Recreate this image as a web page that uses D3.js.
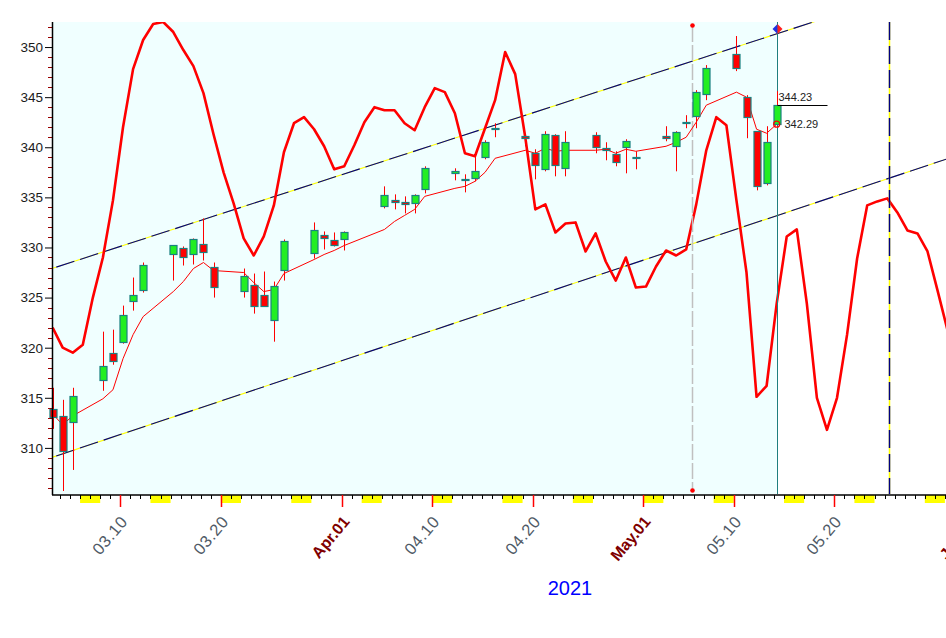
<!DOCTYPE html>
<html><head><meta charset="utf-8">
<script src="https://cdn.jsdelivr.net/npm/d3@7"></script>
<style>
body{margin:0;background:#fff;}
svg{display:block;font-family:Arial,"Liberation Sans",sans-serif;}
</style></head>
<body><svg id="chart" width="946" height="638"></svg>
<script>
// ---------------- DATA ----------------
const tradeDates = ["2021-03-03","2021-03-04","2021-03-05","2021-03-08","2021-03-09","2021-03-10","2021-03-11","2021-03-12","2021-03-15","2021-03-16","2021-03-17","2021-03-18","2021-03-19","2021-03-22","2021-03-23","2021-03-24","2021-03-25","2021-03-26","2021-03-29","2021-03-30","2021-03-31","2021-04-01","2021-04-05","2021-04-06","2021-04-07","2021-04-08","2021-04-09","2021-04-12","2021-04-13","2021-04-14","2021-04-15","2021-04-16","2021-04-19","2021-04-20","2021-04-21","2021-04-22","2021-04-23","2021-04-26","2021-04-27","2021-04-28","2021-04-29","2021-04-30","2021-05-03","2021-05-04","2021-05-05","2021-05-06","2021-05-07","2021-05-10","2021-05-11","2021-05-12","2021-05-13","2021-05-14"];
const opens  = [313.9,313.2,312.6,316.8,319.5,320.6,324.7,325.8,329.3,329.9,329.3,330.3,328.1,325.7,326.3,325.3,322.8,327.7,329.4,331.2,330.7,330.8,334.1,334.7,334.5,334.4,335.8,337.4,336.8,336.9,339.0,341.9,341.1,339.4,337.8,341.2,337.9,341.2,339.9,339.3,340.0,339.0,341.1,340.1,342.5,343.1,345.3,349.3,345.0,341.6,336.4,342.29];
const highs  = [316.0,314.8,316.0,321.6,321.8,324.2,327.0,328.5,330.2,330.1,330.9,332.9,328.5,327.9,327.4,327.6,326.6,330.8,332.5,331.6,331.5,331.6,336.1,335.3,335.1,335.3,338.1,337.9,337.3,339.1,340.7,342.4,341.2,339.8,341.6,341.3,341.6,341.5,340.5,339.6,340.8,339.6,342.1,341.6,343.2,345.7,348.2,351.1,345.2,341.6,342.1,345.6];
const lows   = [311.9,305.7,307.8,315.7,318.3,320.4,323.7,325.5,326.7,328.2,328.3,328.7,325.0,325.0,323.4,324.1,320.6,326.7,328.9,329.8,330.1,329.7,333.9,333.8,333.4,333.4,335.4,336.7,335.5,336.6,338.8,341.0,340.1,336.8,337.6,337.1,337.1,339.4,338.7,338.1,337.4,337.8,340.6,337.6,341.9,341.9,344.7,347.6,340.9,335.7,336.2,342.2];
const closes = [313.1,309.7,315.2,318.2,318.7,323.3,325.3,328.3,330.2,329.0,330.8,329.5,326.1,327.2,324.2,324.2,326.2,330.6,331.7,330.9,330.2,331.5,335.2,334.5,334.3,335.2,337.9,337.6,336.8,337.6,340.5,341.9,340.9,338.2,341.3,338.2,340.5,340.0,339.7,338.5,340.6,339.0,340.9,341.5,342.5,345.5,347.9,347.9,343.0,336.1,340.5,344.23];
const maValues = [313.4,312.3,313.2,314.9,315.8,318.9,321.3,323.1,325.6,326.6,327.9,328.5,327.7,327.5,326.5,325.6,325.8,327.4,328.8,329.3,329.7,330.2,331.8,332.6,333.2,333.8,335.1,335.9,336.1,336.6,337.5,338.9,339.7,339.4,339.9,339.6,339.7,339.7,339.8,339.4,339.8,339.6,340.1,340.5,341.0,342.5,344.2,345.5,345.0,341.8,341.4,342.3];

// cycle projection line, one value per calendar day starting 2021-03-03
const cycleStart = "2021-03-03";
const cycleValues = [322.0,320.0,319.5,320.3,325.0,329.0,334.7,342.0,347.8,350.7,352.3,352.5,351.5,349.7,348.1,345.4,341.3,337.5,334.4,330.9,329.2,331.1,334.2,339.5,342.4,343.0,341.8,340.1,337.8,338.1,340.2,342.5,344.0,343.7,343.7,342.4,341.7,344.0,345.9,345.5,343.4,339.4,339.1,341.9,344.7,349.5,347.3,341.0,333.8,334.3,331.5,332.4,332.5,329.6,331.4,328.6,326.7,329.0,326.0,326.1,328.1,329.7,329.2,329.8,334.3,339.7,343.0,342.2,334.7,327.5,315.1,316.2,324.4,331.1,331.8,324.4,315.0,311.8,315.0,321.3,328.9,334.2,334.6,334.9,333.5,331.7,331.4,329.6,325.7,321.7];

// channel lines: [date, value] end points
const channelUpper = [["2021-03-01", 327.27], ["2021-05-31", 356.84]];
const channelLower = [["2021-03-01", 308.41], ["2021-05-31", 338.86]];

const yTickValues = [310, 315, 320, 325, 330, 335, 340, 345, 350];
const xTickLabels = [
  ["2021-03-10","03.10",false],["2021-03-20","03.20",false],["2021-04-01","Apr.01",true],
  ["2021-04-10","04.10",false],["2021-04-20","04.20",false],["2021-05-01","May.01",true],
  ["2021-05-10","05.10",false],["2021-05-20","05.20",false],["2021-06-01","Jun.01",true]
];
const yearLabel = "2021";
const markerDate = "2021-05-05T20:40:00Z";   // gray dashed divider
const cycleDate  = "2021-05-25T11:15:00Z";   // navy dashed cycle line
const targetValue = 351.8;                     // diamond marker value
const closeLabel = "344.23", openLabel = "342.29";

// ---------------- SCALES ----------------
const W = 946, H = 638;
const plot = {left: 52, top: 22, bottom: 494, right: 946};
const parse = d3.isoParse;
const x = d3.scaleUtc()
  .domain([parse("2021-03-10"), parse("2021-05-20")])
  .range([120.3, 834.3]);
const dayW = x(parse("2021-03-11")) - x(parse("2021-03-10"));
const xc = d => x(d) + dayW * 0.27;   // candle / point centre in a day
const y = d3.scaleLinear().domain([305.4, 352.5]).range([plot.bottom, plot.top]);

const svg = d3.select("#chart");
const defs = svg.append("defs");
defs.append("clipPath").attr("id","clip").append("rect")
  .attr("x", plot.left).attr("y", plot.top)
  .attr("width", plot.right - plot.left).attr("height", plot.bottom - plot.top);

const lastDate = parse(tradeDates[tradeDates.length-1]);
const lastX = xc(lastDate);

// background (history part)
svg.append("rect").attr("x", plot.left).attr("y", plot.top)
  .attr("width", lastX - plot.left).attr("height", plot.bottom - plot.top)
  .attr("fill", "#f0ffff");

const g = svg.append("g").attr("clip-path","url(#clip)");

// channel lines
function channel(pts){
  const line = d3.line().x(p => xc(parse(p[0])) ).y(p => y(p[1]));
  g.append("path").attr("d", line(pts)).attr("stroke","#ffff00").attr("stroke-width",1.1).attr("fill","none");
  g.append("path").attr("d", line(pts)).attr("stroke","#000080").attr("stroke-width",1.1)
    .attr("stroke-dasharray","19,6").attr("fill","none");
}
channel(channelUpper);
channel(channelLower);

// gray dashed divider
const mx = Math.round(x(parse(markerDate))) + 0.5;
svg.append("line").attr("x1",mx).attr("x2",mx).attr("y1",plot.top+4).attr("y2",plot.bottom-4)
  .attr("stroke","#c0c0c0").attr("stroke-width",1.5).attr("stroke-dasharray","16,3");
svg.append("circle").attr("cx",mx).attr("cy",plot.top+3.5).attr("r",2.3).attr("fill","#ff0000");
svg.append("circle").attr("cx",mx).attr("cy",plot.bottom-3.5).attr("r",2.3).attr("fill","#ff0000");

// navy dashed cycle line
const cx0 = Math.round(x(parse(cycleDate))) + 0.5;
svg.append("line").attr("x1",cx0).attr("x2",cx0).attr("y1",plot.top).attr("y2",plot.bottom)
  .attr("stroke","#ffff00").attr("stroke-width",1.5);
svg.append("line").attr("x1",cx0).attr("x2",cx0).attr("y1",plot.top).attr("y2",plot.bottom)
  .attr("stroke","#000080").attr("stroke-width",1.5).attr("stroke-dasharray","18,6");

// teal "today" line
const tx = Math.round(lastX) + 0.5;
svg.append("line").attr("x1",tx).attr("x2",tx).attr("y1",plot.top).attr("y2",plot.bottom)
  .attr("stroke","#1f7f7f").attr("stroke-width",1);

// cycle thick line
const c0 = parse(cycleStart);
const cyc = cycleValues.map((v,i) => [d3.utcDay.offset(c0, i), v]);
g.append("path").attr("d", d3.line().x(d => xc(d[0])).y(d => y(d[1]))(cyc))
  .attr("fill","none").attr("stroke","#ff0000").attr("stroke-width",2.6).attr("stroke-linejoin","round");

// MA thin line
const ma = tradeDates.map((d,i) => [parse(d), maValues[i]]);
svg.append("path").attr("d", d3.line().x(d => xc(d[0])).y(d => y(d[1]))(ma))
  .attr("fill","none").attr("stroke","#ff0000").attr("stroke-width",1);

// candles
const candles = tradeDates.map((d,i) => ({d: parse(d), o: opens[i], h: highs[i], l: lows[i], c: closes[i]}));
const cg = svg.append("g");
candles.forEach(k => {
  const cx = Math.round(xc(k.d));
  cg.append("line").attr("x1",cx+0.5).attr("x2",cx+0.5).attr("y1",y(k.h)).attr("y2",y(k.l))
    .attr("stroke","#ff0000").attr("stroke-width",1);
  const top = y(Math.max(k.o,k.c)), bot = y(Math.min(k.o,k.c));
  const up = k.c >= k.o;
  cg.append("rect").attr("x",cx-3).attr("y",Math.round(top)+0.5)
    .attr("width",7).attr("height",Math.max(1, Math.round(bot-top)))
    .attr("fill", up ? "#22ee22" : "#ff0000")
    .attr("stroke","#1a8080").attr("stroke-width",1.2);
});

// last price marks
const lastK = candles[candles.length-1];
svg.append("line").attr("x1",tx).attr("x2",tx+50).attr("y1",Math.round(y(lastK.c))+0.5).attr("y2",Math.round(y(lastK.c))+0.5)
  .attr("stroke","#000").attr("stroke-width",1);
svg.append("text").attr("x",tx+1).attr("y",y(lastK.c)-4).text(closeLabel)
  .attr("font-size","11px").attr("fill","#222");
svg.append("text").attr("x",tx+7).attr("y",y(lastK.o)+4).text(openLabel)
  .attr("font-size","11px").attr("fill","#222");
svg.append("circle").attr("cx",lastX).attr("cy",y(maValues[maValues.length-1])).attr("r",3)
  .attr("fill","none").attr("stroke","#ff0000").attr("stroke-width",1.2);

// diamond marker
const dy = y(targetValue);
svg.append("path").attr("d",`M${tx},${dy-5}L${tx-5},${dy}L${tx},${dy+5}Z`).attr("fill","#2030e0");
svg.append("path").attr("d",`M${tx},${dy-5}L${tx+5},${dy}L${tx},${dy+5}Z`).attr("fill","#ff2020");

// ---------------- AXES ----------------
// weekend blocks
const dayList = d3.utcDay.range(parse("2021-02-26"), parse("2021-06-05"));
dayList.filter(d => d.getUTCDay() === 6).forEach(d => {
  const x1 = Math.max(plot.left, x(d)), x2 = x(d3.utcDay.offset(d,2));
  if (x2 > plot.left) svg.append("rect").attr("x",x1).attr("y",plot.bottom+1).attr("width",x2-x1).attr("height",8).attr("fill","#ffff00");
});
// day ticks
dayList.forEach(d => {
  const xx = Math.round(x(d)) + 0.5;
  if (xx > plot.left + 2 && xx < W) svg.append("line").attr("x1",xx).attr("x2",xx).attr("y1",plot.bottom+1).attr("y2",plot.bottom+5)
    .attr("stroke","#000").attr("stroke-width",1);
});
// x axis line
svg.append("line").attr("x1",plot.left).attr("x2",W).attr("y1",plot.bottom+1).attr("y2",plot.bottom+1)
  .attr("stroke","#000").attr("stroke-width",1.5);
// major ticks and labels
xTickLabels.forEach(([ds, txt, month]) => {
  const xx = Math.round(x(parse(ds))) + 0.5;
  svg.append("line").attr("x1",xx).attr("x2",xx).attr("y1",plot.bottom+1).attr("y2",plot.bottom+13)
    .attr("stroke","#ff0000").attr("stroke-width",1.5);
  const edge = xx > W ? 16 : 0;   // label partly beyond the right edge
  const ax = xx + 8 + edge, ay = 522;
  svg.append("text").attr("x",ax).attr("y",ay).attr("text-anchor","end")
    .attr("transform",`rotate(-50,${ax},${ay})`)
    .attr("font-size", month ? "16px" : "16.5px")
    .attr("font-weight", month ? "bold" : "normal")
    .attr("fill", month ? "#800000" : "#505a66")
    .attr("letter-spacing", month ? "0px" : "0.6px")
    .text(txt);
});
svg.append("text").attr("x",570).attr("y",595).attr("text-anchor","middle")
  .attr("font-size","20px").attr("fill","#0000ff").text(yearLabel);

// y axis
d3.range(306, 353).forEach(v => {
  const yy = Math.round(y(v)) + 0.5;
  if (v % 5 !== 0) svg.append("line").attr("x1",plot.left-4).attr("x2",plot.left).attr("y1",yy).attr("y2",yy)
    .attr("stroke","#990000").attr("stroke-width",1);
});
const yAxis = d3.axisLeft(y).tickValues(yTickValues).tickSize(7).tickPadding(2).tickFormat(d3.format("d"));
const ya = svg.append("g").attr("transform",`translate(${plot.left},0)`).call(yAxis);
ya.select(".domain").remove();
ya.selectAll(".tick line").attr("stroke","#000");
ya.selectAll(".tick text").attr("font-size","13.5px").attr("fill","#1a1a1a").attr("font-family","Arial,'Liberation Sans',sans-serif");
svg.append("line").attr("x1",plot.left+0.5).attr("x2",plot.left+0.5).attr("y1",plot.top).attr("y2",plot.bottom+1)
  .attr("stroke","#000").attr("stroke-width",1.5);
</script>
</body></html>
